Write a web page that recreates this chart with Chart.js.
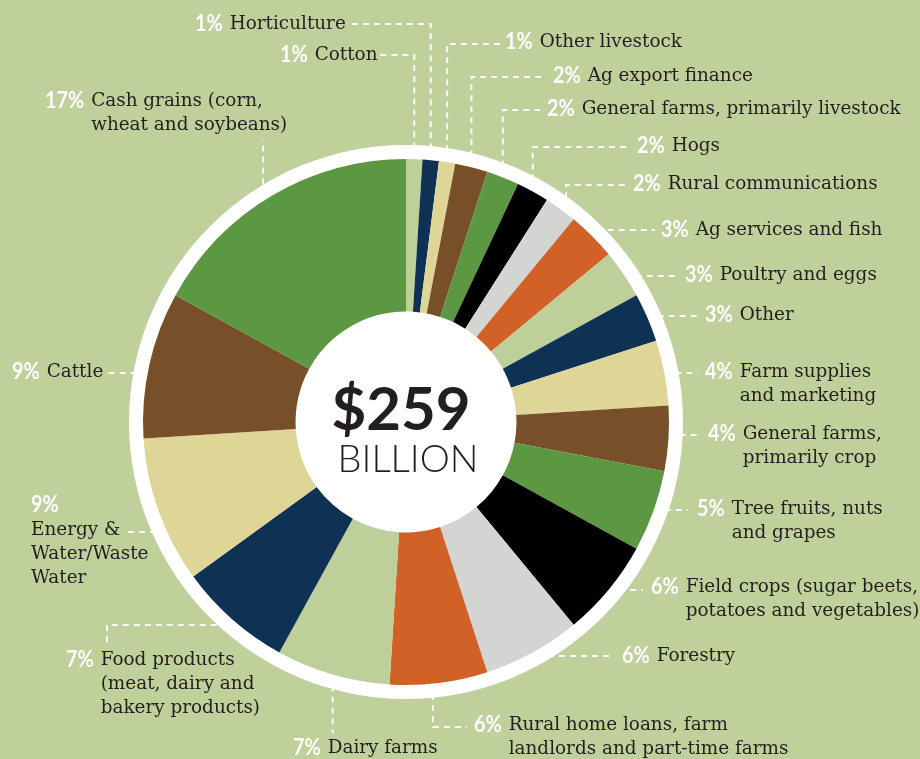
<!DOCTYPE html>
<html>
<head>
<meta charset="utf-8">
<script src="https://cdn.jsdelivr.net/npm/chart.js@4.4.1/dist/chart.umd.min.js"></script>
<style>
  html, body { margin: 0; padding: 0; background: #bfd09b; }
  #wrap { width: 920px; height: 759px; position: relative; }
</style>
</head>
<body>
<div id="wrap"><canvas id="pie_chart"></canvas></div>
<script>
// categories, clockwise from 12 o'clock
var categories = [
  "Cotton",
  "Horticulture",
  "Other livestock",
  "Ag export finance",
  "General farms, primarily livestock",
  "Hogs",
  "Rural communications",
  "Ag services and fish",
  "Poultry and eggs",
  "Other",
  "Farm supplies\nand marketing",
  "General farms,\nprimarily crop",
  "Tree fruits, nuts\nand grapes",
  "Field crops (sugar beets,\npotatoes and vegetables)",
  "Forestry",
  "Rural home loans, farm\nlandlords and part-time farms",
  "Dairy farms",
  "Food products\n(meat, dairy and\nbakery products)",
  "Energy &\nWater/Waste\nWater",
  "Cattle",
  "Cash grains (corn,\nwheat and soybeans)"
];
var shares = [1, 1, 1, 2, 2, 2, 2, 3, 3, 3, 4, 4, 5, 6, 6, 6, 7, 7, 9, 9, 17];
var totalText = "$259";
var unitText = "BILLION";

// 8 colour cycle used by the slices
var palette = ["#bed09a", "#0f3154", "#ded597", "#774f28", "#5b9841", "#000000", "#d3d5d3", "#d26128"];
var colors = [];
for (var i in shares) {
  colors.push(palette[i % palette.length]);
}

// label placement: x/y of the percent text, leader line ('v' = vertical from slice, 'h' = horizontal to ring)
var layout = [
  { x: 280, y: 55,  type: 'v', ly: 55,  x2: 380 },
  { x: 195, y: 24,  type: 'v', ly: 24,  x2: 349 },
  { x: 505, y: 42,  type: 'v', ly: 44,  x2: 500 },
  { x: 553, y: 76,  type: 'v', ly: 77,  x2: 545 },
  { x: 547, y: 109, type: 'v', ly: 110, x2: 540 },
  { x: 637, y: 146, type: 'v', ly: 147, x2: 630 },
  { x: 633, y: 184, type: 'v', ly: 185, x2: 627, vx: 566 },
  { x: 661, y: 230, type: 'h', ly: 230, x2: 655 },
  { x: 685, y: 275, type: 'h', ly: 276, x2: 677 },
  { x: 705, y: 315, type: 'h', ly: 316, x2: 697 },
  { x: 705, y: 372, type: 'h', ly: 373, x2: 698 },
  { x: 708, y: 434, type: 'h', ly: 435, x2: 700 },
  { x: 697, y: 509, type: 'h', ly: 510, x2: 688 },
  { x: 651, y: 587, type: 'h', ly: 590, x2: 643 },
  { x: 622, y: 656, type: 'h', ly: 656, x2: 614 },
  { x: 474, y: 725, type: 'v', ly: 727, x2: 467, vx: 433 },
  { x: 293, y: 748, type: 'v', ly: 733 },
  { x: 66,  y: 660, type: 'h', ly: 625, x2: 107, drop: 643 },
  { x: 31,  y: 505, type: 'h', ly: 532, x2: 128, pctAbove: true },
  { x: 12,  y: 372, type: 'h', ly: 373, x2: 108 },
  { x: 45,  y: 101, type: 'v', ly: 140, vx: 263 }
];

var ringWidth = 14;
var lineHeight = 24;
var pctSqueeze = 0.86;

var piePlugin = {
  id: 'pieDecor',
  beforeDatasetsDraw: function(chart) {
    var arcs = chart.getDatasetMeta(0).data;
    var ctx = chart.ctx;
    var cx = arcs[0].x, cy = arcs[0].y, r = arcs[0].outerRadius;

    // dashed leader lines (inner ends get covered by the white ring)
    ctx.save();
    ctx.strokeStyle = "rgba(255,255,255,0.95)";
    ctx.lineWidth = 2;
    ctx.setLineDash([6, 5]);
    for (var i in layout) {
      var l = layout[i];
      var a = arcs[i];
      var mid = (a.startAngle + a.endAngle) / 2;
      var px = cx + r * Math.cos(mid);
      var py = cy + r * Math.sin(mid);
      ctx.beginPath();
      if (l.type == 'v') {
        var vx = l.vx || px;
        ctx.moveTo(vx, py);
        ctx.lineTo(vx, l.ly);
        if (l.x2) ctx.lineTo(l.x2, l.ly);
      } else {
        var dy = l.ly - cy;
        var dx = Math.sqrt(Math.max(r * r - dy * dy, 0));
        var hx = l.x2 > cx ? cx + dx : cx - dx;
        ctx.moveTo(hx, l.ly);
        ctx.lineTo(l.x2, l.ly);
        if (l.drop) ctx.lineTo(l.x2, l.drop);
      }
      ctx.stroke();
    }
    ctx.restore();

    // white ring behind the slices
    ctx.save();
    ctx.beginPath();
    ctx.arc(cx, cy, r + ringWidth, 0, 2 * Math.PI);
    ctx.fillStyle = "#ffffff";
    ctx.fill();
    ctx.restore();
  },
  afterDatasetsDraw: function(chart) {
    var arcs = chart.getDatasetMeta(0).data;
    var ctx = chart.ctx;
    var cx = arcs[0].x, cy = arcs[0].y;

    ctx.save();
    ctx.fillStyle = "#231f20";
    ctx.textAlign = "center";
    ctx.textBaseline = "alphabetic";
    ctx.font = "bold 60px Lato";
    ctx.fillText(totalText, cx - 5, cy + 8);
    ctx.font = "300 38px Lato";
    ctx.fillText(unitText, cx + 2, cy + 50);
    ctx.restore();

    // labels
    ctx.save();
    ctx.textBaseline = "middle";
    ctx.textAlign = "left";
    for (var i in layout) {
      var l = layout[i];
      var pct = shares[i] + "%";
      var lines = categories[i].split("\n");
      ctx.font = "bold 23px Lato";
      ctx.fillStyle = "#ffffff";
      var pw = ctx.measureText(pct).width * pctSqueeze;
      ctx.save();
      ctx.translate(l.x, l.y);
      ctx.scale(pctSqueeze, 1);
      ctx.fillText(pct, 0, 0);
      ctx.restore();
      var nx, ny;
      if (l.pctAbove) {
        nx = l.x;
        ny = l.y + lineHeight + 1;
      } else {
        nx = l.x + pw + 7;
        ny = l.y;
      }
      ctx.font = "18.4px 'DejaVu Serif'";
      ctx.fillStyle = "#231f20";
      for (var j in lines) {
        ctx.fillText(lines[j], nx, ny + j * lineHeight);
      }
    }
    ctx.restore();
  }
};

var ctx = document.getElementById("pie_chart");

var PieChart = new Chart(ctx, {
  type: 'doughnut',
  data: {
    labels: categories,
    datasets: [
      {
        data: shares,
        backgroundColor: colors,
        borderWidth: 0,
        hoverBorderWidth: 0,
        hoverOffset: 0
      }
    ]
  },
  options: {
    responsive: true,
    maintainAspectRatio: false,
    animation: false,
    events: [],
    cutout: '42%',
    layout: {
      padding: { left: 143, top: 159, right: 251, bottom: 74 }
    },
    plugins: {
      legend: { display: false },
      tooltip: { enabled: false }
    }
  },
  plugins: [piePlugin]
});
</script>
</body>
</html>
